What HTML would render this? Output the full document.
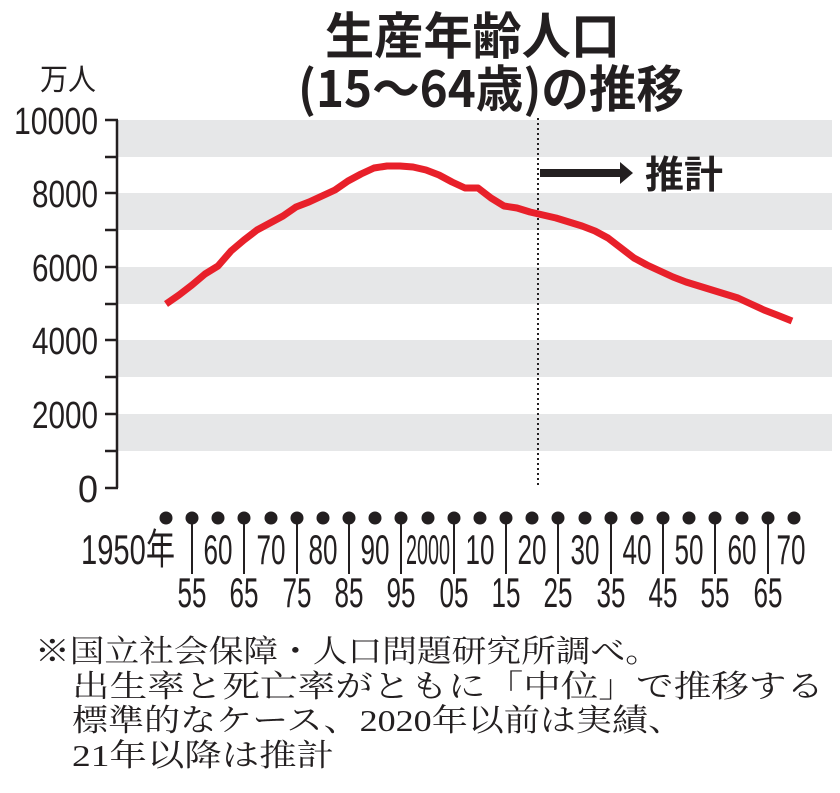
<!DOCTYPE html>
<html><head><meta charset="utf-8"><style>body{margin:0;background:#fff}svg{display:block}</style></head><body>
<svg width="840" height="793" viewBox="0 0 840 793" xmlns="http://www.w3.org/2000/svg">
<g font-family="Noto Sans CJK JP, sans-serif" fill="#231f20">
<text x="325" y="54" font-size="50" font-weight="bold" textLength="295" lengthAdjust="spacingAndGlyphs">生産年齢人口</text>
<text x="298" y="107" font-size="50" font-weight="bold" textLength="386" lengthAdjust="spacingAndGlyphs">(15〜64歳)の推移</text>
<text x="40" y="90" font-size="30" textLength="56" lengthAdjust="spacingAndGlyphs">万人</text>
</g>
<g fill="#e6e7e8">
<rect x="118" y="120" width="714" height="37"/>
<rect x="118" y="193" width="714" height="37"/>
<rect x="118" y="267" width="714" height="37"/>
<rect x="118" y="340" width="714" height="37"/>
<rect x="118" y="414" width="714" height="37"/>
</g>
<g stroke="#231f20" stroke-width="2.5" fill="none">
<path d="M117 120V488M105 120H118M105 157H117M105 193H117M105 230H117M105 267H117M105 304H117M105 340H117M105 377H117M105 414H117M105 451H117M105 488H118"/>
</g>
<g font-family="Liberation Sans, sans-serif" font-size="38" fill="#231f20" text-anchor="end">
<text x="98" y="134" textLength="84" lengthAdjust="spacingAndGlyphs">10000</text>
<text x="98" y="207" textLength="66" lengthAdjust="spacingAndGlyphs">8000</text>
<text x="98" y="281" textLength="66" lengthAdjust="spacingAndGlyphs">6000</text>
<text x="98" y="354" textLength="66" lengthAdjust="spacingAndGlyphs">4000</text>
<text x="98" y="428" textLength="66" lengthAdjust="spacingAndGlyphs">2000</text>
<text x="98" y="502" textLength="20" lengthAdjust="spacingAndGlyphs">0</text>
</g>
<line x1="538" y1="118" x2="538" y2="488" stroke="#231f20" stroke-width="2" stroke-dasharray="2,3"/>
<path d="M540 169H620V162L633 173L620 184V177H540Z" fill="#231f20"/>
<text x="645" y="188" font-family="Noto Sans CJK JP, sans-serif" font-weight="bold" font-size="38" fill="#231f20" textLength="78" lengthAdjust="spacingAndGlyphs">推計</text>
<polyline fill="none" stroke="#e8202a" stroke-width="7" stroke-linejoin="round"
points="166,304 179,295 192,285 205,274 218,266 231,251 244,240 257,230 270,223 283,216 296,207 309,202 322,196 335,190 348,181 361,174 374,168 387,166 400,166 413,167 426,170 439,175 452,182 465,188 478,188 491,198 504,206 517,208 530,212 543,215 556,218 569,222 582,226 595,231 608,238 621,248 634,258 647,265 660,271 673,277 686,282 699,286 712,290 725,294 738,298 751,304 764,310 777,315 792,321"/>
<g stroke="#231f20" stroke-width="2" fill="#231f20">
<circle cx="166" cy="518" r="5.5"/><circle cx="192" cy="518" r="5.5"/><circle cx="218" cy="518" r="5.5"/><circle cx="244" cy="518" r="5.5"/><circle cx="271" cy="518" r="5.5"/><circle cx="297" cy="518" r="5.5"/><circle cx="323" cy="518" r="5.5"/><circle cx="349" cy="518" r="5.5"/><circle cx="375" cy="518" r="5.5"/><circle cx="401" cy="518" r="5.5"/><circle cx="428" cy="518" r="5.5"/><circle cx="454" cy="518" r="5.5"/><circle cx="480" cy="518" r="5.5"/><circle cx="506" cy="518" r="5.5"/><circle cx="532" cy="518" r="5.5"/><circle cx="558" cy="518" r="5.5"/><circle cx="585" cy="518" r="5.5"/><circle cx="611" cy="518" r="5.5"/><circle cx="637" cy="518" r="5.5"/><circle cx="663" cy="518" r="5.5"/><circle cx="689" cy="518" r="5.5"/><circle cx="715" cy="518" r="5.5"/><circle cx="742" cy="518" r="5.5"/><circle cx="768" cy="518" r="5.5"/><circle cx="794" cy="518" r="5.5"/>
<path d="M192 518V574M244 518V574M297 518V574M349 518V574M401 518V574M454 518V574M506 518V574M558 518V574M611 518V574M663 518V574M715 518V574M768 518V574" fill="none"/>
</g>
<g font-family="Liberation Sans, Noto Sans CJK JP, sans-serif" font-size="42" fill="#231f20" text-anchor="middle">
<text x="128" y="564" textLength="94" lengthAdjust="spacingAndGlyphs">1950年</text>
<text x="218" y="564" textLength="29" lengthAdjust="spacingAndGlyphs">60</text>
<text x="271" y="564" textLength="29" lengthAdjust="spacingAndGlyphs">70</text>
<text x="323" y="564" textLength="29" lengthAdjust="spacingAndGlyphs">80</text>
<text x="375" y="564" textLength="29" lengthAdjust="spacingAndGlyphs">90</text>
<text x="428" y="564" textLength="44" lengthAdjust="spacingAndGlyphs">2000</text>
<text x="480" y="564" textLength="29" lengthAdjust="spacingAndGlyphs">10</text>
<text x="532" y="564" textLength="29" lengthAdjust="spacingAndGlyphs">20</text>
<text x="585" y="564" textLength="29" lengthAdjust="spacingAndGlyphs">30</text>
<text x="637" y="564" textLength="29" lengthAdjust="spacingAndGlyphs">40</text>
<text x="689" y="564" textLength="29" lengthAdjust="spacingAndGlyphs">50</text>
<text x="742" y="564" textLength="29" lengthAdjust="spacingAndGlyphs">60</text>
<text x="791" y="564" textLength="29" lengthAdjust="spacingAndGlyphs">70</text>
<text x="192" y="607" textLength="29" lengthAdjust="spacingAndGlyphs">55</text>
<text x="244" y="607" textLength="29" lengthAdjust="spacingAndGlyphs">65</text>
<text x="297" y="607" textLength="29" lengthAdjust="spacingAndGlyphs">75</text>
<text x="349" y="607" textLength="29" lengthAdjust="spacingAndGlyphs">85</text>
<text x="401" y="607" textLength="29" lengthAdjust="spacingAndGlyphs">95</text>
<text x="454" y="607" textLength="29" lengthAdjust="spacingAndGlyphs">05</text>
<text x="506" y="607" textLength="29" lengthAdjust="spacingAndGlyphs">15</text>
<text x="558" y="607" textLength="29" lengthAdjust="spacingAndGlyphs">25</text>
<text x="611" y="607" textLength="29" lengthAdjust="spacingAndGlyphs">35</text>
<text x="663" y="607" textLength="29" lengthAdjust="spacingAndGlyphs">45</text>
<text x="715" y="607" textLength="29" lengthAdjust="spacingAndGlyphs">55</text>
<text x="768" y="607" textLength="29" lengthAdjust="spacingAndGlyphs">65</text>
</g>
<g font-family="Liberation Serif, Noto Serif CJK SC, serif" font-size="31" fill="#231f20">
<text x="35" y="662" textLength="625" lengthAdjust="spacingAndGlyphs">※国立社会保障・人口問題研究所調べ。</text>
<text x="72" y="697" textLength="752" lengthAdjust="spacingAndGlyphs">出生率と死亡率がともに「中位」で推移する</text>
<text x="72" y="731" textLength="612" lengthAdjust="spacingAndGlyphs">標準的なケース、2020年以前は実績、</text>
<text x="72" y="766" textLength="262" lengthAdjust="spacingAndGlyphs">21年以降は推計</text>
</g>
</svg>
</body></html>
